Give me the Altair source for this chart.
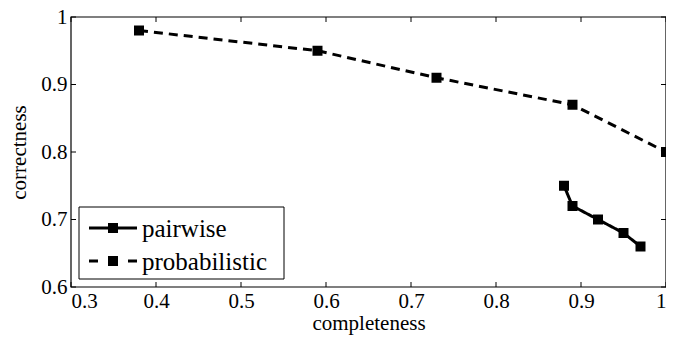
import altair as alt
import pandas as pd

series_names = ["pairwise", "probabilistic"]
pairwise_x = [0.88, 0.89, 0.92, 0.95, 0.97]
pairwise_y = [0.75, 0.72, 0.70, 0.68, 0.66]
prob_x = [0.38, 0.59, 0.73, 0.89, 1.0]
prob_y = [0.98, 0.95, 0.91, 0.87, 0.80]
x_ticks = [0.3, 0.4, 0.5, 0.6, 0.7, 0.8, 0.9, 1.0]
y_ticks = [0.6, 0.7, 0.8, 0.9, 1.0]

rows = []
for i, (xs, ys) in enumerate([(pairwise_x, pairwise_y), (prob_x, prob_y)]):
    for k, (a, b) in enumerate(zip(xs, ys)):
        rows.append({"x": a, "y": b, "series": series_names[i], "order": k})
df = pd.DataFrame(rows)
xt = pd.DataFrame({"x": x_ticks})
yt = pd.DataFrame({"y": y_ticks})
one = pd.DataFrame({"k": [0]})

W, H = 595, 270
FONT = "Liberation Serif, Times New Roman, serif"
TL = 5

xscale = alt.Scale(domain=[0.3, 1.0], nice=False, zero=False)
yscale = alt.Scale(domain=[0.6, 1.0], nice=False, zero=False)
axis_style = dict(ticks=False, domain=False, grid=False,
                  labelFont=FONT, labelFontSize=21, labelColor="black",
                  titleFont=FONT, titleFontSize=21, titleColor="black",
                  titleFontWeight="normal")
x_axis = alt.Axis(values=x_ticks, format=".1~f", title="completeness",
                  labelPadding=3, titlePadding=1, **axis_style)
y_axis = alt.Axis(values=y_ticks, format=".1~f", title="correctness",
                  labelPadding=4, titlePadding=11, **axis_style)

series_dash = alt.Scale(domain=series_names, range=[[1, 0], [9, 6]])

base = alt.Chart(df)
X = alt.X("x:Q", scale=xscale, axis=x_axis)
Y = alt.Y("y:Q", scale=yscale, axis=y_axis)

lines = base.mark_line(color="black", strokeWidth=3).encode(
    x=X, y=Y,
    strokeDash=alt.StrokeDash("series:N", scale=series_dash, legend=None),
    detail="series:N",
    order="order:Q",
)

points = base.mark_point(shape="square", filled=True, size=100, color="black", opacity=1).encode(
    x=X, y=Y,
)

# inward ticks on all four sides
bottom_ticks = alt.Chart(xt).mark_rule(color="black").encode(
    x=X, y=alt.value(H), y2=alt.value(H - TL))
top_ticks = alt.Chart(xt).mark_rule(color="black").encode(
    x=X, y=alt.value(0), y2=alt.value(TL))
left_ticks = alt.Chart(yt).mark_rule(color="black").encode(
    y=Y, x=alt.value(0), x2=alt.value(TL))
right_ticks = alt.Chart(yt).mark_rule(color="black").encode(
    y=Y, x=alt.value(W), x2=alt.value(W - TL))

# frame
frame = alt.Chart(one).mark_rect(fillOpacity=0, stroke="black", strokeWidth=1.2).encode(
    x=alt.value(0), x2=alt.value(W), y=alt.value(0), y2=alt.value(H))

# legend (drawn inside the plot, bottom-left)
leg_box = alt.Chart(one).mark_rect(fill="white", stroke="black", strokeWidth=1).encode(
    x=alt.value(8), x2=alt.value(213), y=alt.value(H - 80), y2=alt.value(H - 8))
legend_layers = [leg_box]
dash_styles = [[1, 0], [9, 30]]
for i, name in enumerate(series_names):
    yy = H - 59 + 33 * i
    legend_layers.append(
        alt.Chart(one).mark_rule(color="black", strokeWidth=3, strokeDash=dash_styles[i]).encode(
            x=alt.value(18), x2=alt.value(66), y=alt.value(yy)))
    legend_layers.append(
        alt.Chart(one).mark_point(shape="square", filled=True, size=100, color="black", opacity=1).encode(
            x=alt.value(42), y=alt.value(yy)))
    legend_layers.append(
        alt.Chart(one).mark_text(align="left", baseline="middle", font=FONT, fontSize=25,
                                 color="black").encode(
            x=alt.value(71), y=alt.value(yy + 1), text=alt.value(name)))

chart = alt.layer(
    lines, points, bottom_ticks, top_ticks, left_ticks, right_ticks, frame, *legend_layers
).properties(
    width=W, height=H,
    background="white",
    autosize=alt.AutoSizeParams(type="none"),
    padding={"left": 63, "top": 9, "right": 0, "bottom": 50},
).configure_view(
    stroke=None
)

chart.save("out.html", embed_options={"renderer": "svg", "actions": False})
